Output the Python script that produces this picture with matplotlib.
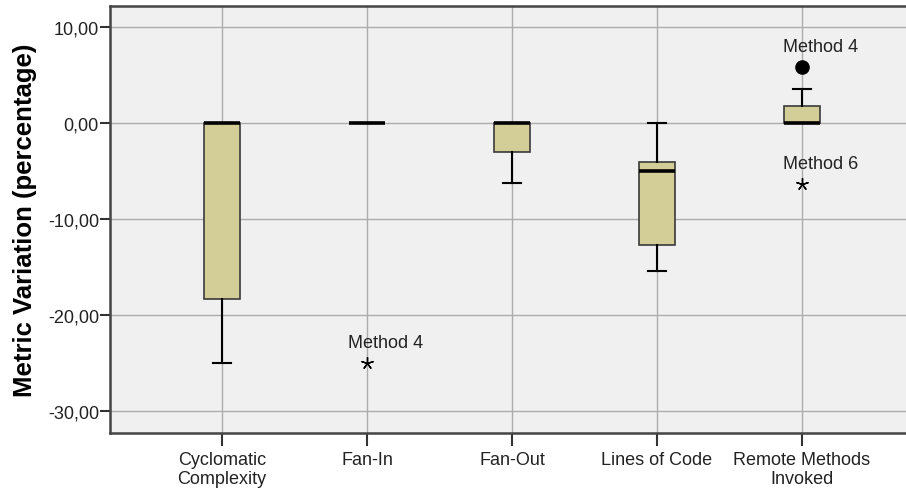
import matplotlib
matplotlib.use("Agg")
import matplotlib.pyplot as plt

plt.rcParams['font.family'] = ['Liberation Sans', 'DejaVu Sans']

categories = ["Cyclomatic\nComplexity", "Fan-In", "Fan-Out", "Lines of Code", "Remote Methods\nInvoked"]
q1 = [-18.3, 0.0, -3.0, -12.65, 0.0]
med = [0.0, 0.0, 0.0, -5.0, 0.0]
q3 = [0.0, 0.0, 0.0, -4.05, 1.8]
whislo = [-25.0, 0.0, -6.25, -15.4, 0.0]
whishi = [0.0, 0.0, 0.0, 0.0, 3.6]

# outliers (circle) and extremes (star)
outlier_cat = [4]
outlier_val = [5.85]
outlier_lbl = ["Method 4"]
extreme_cat = [1, 4]
extreme_val = [-25.0, -6.3]
extreme_lbl = ["Method 4", "Method 6"]

yticks = [10, 0, -10, -20, -30]
ytick_labels = ["10,00", "0,00", "-10,00", "-20,00", "-30,00"]

fig = plt.figure(figsize=(9.06, 4.89), dpi=100)
ax = fig.add_axes([0.1214, 0.1125, 0.8786, 0.8732])
ax.set_facecolor('#f0f0f0')

stats = []
for i in range(len(categories)):
    stats.append(dict(med=med[i], q1=q1[i], q3=q3[i], whislo=whislo[i], whishi=whishi[i], fliers=[]))

pos = list(range(len(categories)))
ax.bxp(stats, positions=pos, widths=0.25, patch_artist=True, showfliers=False,
       boxprops=dict(facecolor='#d3ce97', edgecolor='#3a3a3a', linewidth=1.2),
       medianprops=dict(color='black', linewidth=2.6, solid_capstyle='butt'),
       whiskerprops=dict(color='black', linewidth=1.5),
       capprops=dict(color='black', linewidth=1.5),
       capwidths=0.13, zorder=3)

ax.plot(outlier_cat, outlier_val, 'o', color='black', markersize=9.5, zorder=4)
ax.plot(extreme_cat, extreme_val, marker=(5, 2, 0), linestyle='none', color='black',
        markersize=9, markeredgewidth=1.0, zorder=4)
for c, v, l in zip(outlier_cat, outlier_val, outlier_lbl):
    ax.annotate(l, (c, v), xytext=(-14, 15), textcoords='offset points',
                ha='left', va='center', fontsize=13, color='#222222')
for c, v, l in zip(extreme_cat, extreme_val, extreme_lbl):
    ax.annotate(l, (c, v), xytext=(-14, 15), textcoords='offset points',
                ha='left', va='center', fontsize=13, color='#222222')

ax.set_xlim(-0.772, 4.717)
ax.set_ylim(-32.24, 12.24)
ax.set_yticks(yticks)
ax.set_yticklabels(ytick_labels)
ax.set_xticks(pos)
ax.set_xticklabels(categories, linespacing=1.15)
ax.tick_params(axis='y', direction='out', length=7, width=1.5, color='#333333',
               labelsize=13, labelcolor='#222222', pad=1)
ax.tick_params(axis='x', direction='out', length=9, width=1.5, color='#333333',
               labelsize=13, labelcolor='#222222', pad=4)
ax.grid(True, color='#adadad', linewidth=1.0, zorder=0)
ax.set_axisbelow(True)

for s in ['left', 'top', 'bottom']:
    ax.spines[s].set_color('#444444')
    ax.spines[s].set_linewidth(1.8)
ax.spines['right'].set_visible(False)

ax.set_ylabel("Metric Variation (percentage)", fontsize=18.5, fontweight='bold', labelpad=8)

fig.savefig("out.png", dpi=100)
